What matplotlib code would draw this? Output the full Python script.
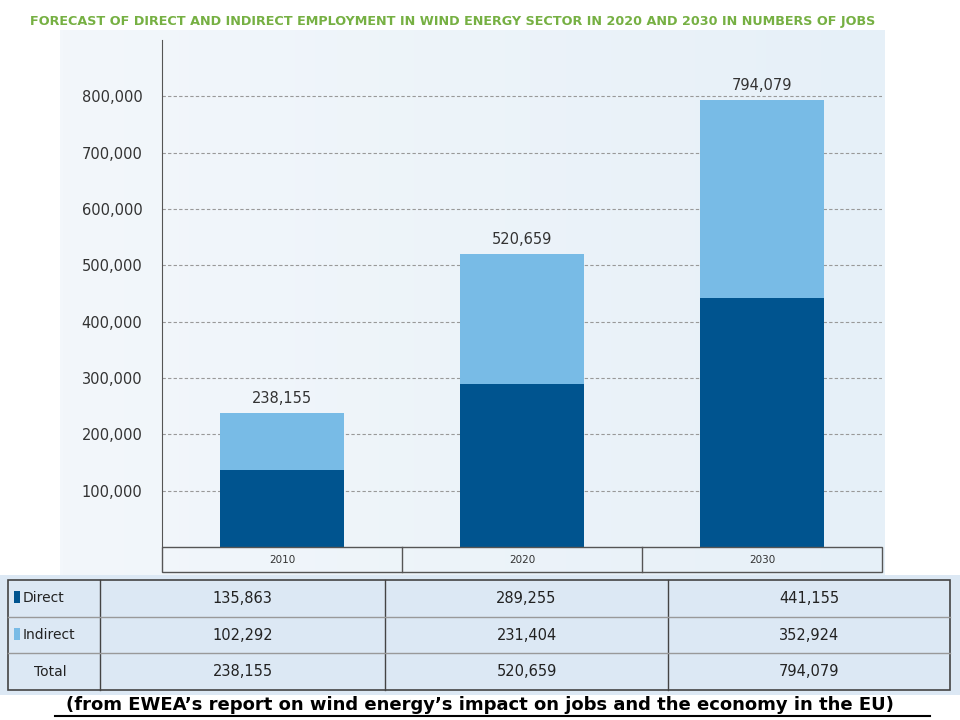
import matplotlib.pyplot as plt
from matplotlib.patches import Rectangle
import numpy as np

years = ["2010", "2020", "2030"]
direct = [135863, 289255, 441155]
indirect = [102292, 231404, 352924]
totals = [238155, 520659, 794079]

dark = "#00548f"
light = "#78bbe6"
W, H = 960, 720

fig = plt.figure(figsize=(9.6, 7.2), dpi=100)
fig.patch.set_facecolor("white")

def fx(x):
    return x / W

def fy(y):
    return 1 - y / H

# background panel with a soft gradient
grad = np.linspace(0, 1, 256).reshape(1, -1)
bg = fig.add_axes([fx(60), fy(575), fx(825), (575 - 30) / H], zorder=0)
bg.imshow(np.vstack([grad, grad]).T[::-1].T, aspect="auto",
          cmap=plt.matplotlib.colors.LinearSegmentedColormap.from_list("g", ["#e6f0f8", "#f3f7fb"]),
          extent=[0, 1, 0, 1])
bg.axis("off")

ax = fig.add_axes([fx(162), fy(547), fx(720), (547 - 40) / H], zorder=1)
ax.patch.set_alpha(0)
x = np.arange(len(years))
ax.bar(x, direct, width=0.52, color=dark, zorder=3)
ax.bar(x, indirect, width=0.52, bottom=direct, color=light, zorder=3)
for xi, t in zip(x, totals):
    ax.text(xi, t + 12000, f"{t:,}", ha="center", va="bottom", fontsize=10.5, color="#333333")
ax.set_xlim(-0.5, 2.5)
ax.set_ylim(0, 900000)
ax.set_yticks(range(100000, 900000, 100000))
ax.set_yticklabels([f"{v:,}" for v in range(100000, 900000, 100000)], fontsize=10.5, color="#333333")
ax.tick_params(axis="y", length=0, pad=14)
ax.set_xticks([])
ax.grid(axis="y", linestyle=(0, (3, 2)), color="#999999", linewidth=0.8, zorder=0)
for s in ["top", "right", "bottom"]:
    ax.spines[s].set_visible(False)
ax.spines["left"].set_color("#555555")

# year row
fig.add_artist(Rectangle((fx(162), fy(572)), fx(720), 25 / H, transform=fig.transFigure,
                         facecolor="none", edgecolor="#555555", lw=1, zorder=5))
for i, yr in enumerate(years):
    fig.text(fx(162 + 240 * i + 120), fy(560), yr, ha="center", va="center", fontsize=7.5, color="#333333")
    if i:
        fig.add_artist(plt.Line2D([fx(162 + 240 * i)] * 2, [fy(547), fy(572)], transform=fig.transFigure,
                                  color="#555555", lw=1))

# data table
fig.add_artist(Rectangle((fx(0), fy(695)), fx(960), 120 / H, transform=fig.transFigure,
                         facecolor="#dce8f4", edgecolor="none", zorder=0))
tl, tr, tt, tb = 8, 950, 580, 690
fig.add_artist(Rectangle((fx(tl), fy(tb)), fx(tr - tl), (tb - tt) / H, transform=fig.transFigure,
                         facecolor="none", edgecolor="#444444", lw=1.2))
cols = [tl, 100, 385, 668, tr]
for cx in cols[1:-1]:
    fig.add_artist(plt.Line2D([fx(cx)] * 2, [fy(tt), fy(tb)], transform=fig.transFigure, color="#444444", lw=1))
rh = (tb - tt) / 3
for r in (1, 2):
    fig.add_artist(plt.Line2D([fx(tl), fx(tr)], [fy(tt + rh * r)] * 2, transform=fig.transFigure,
                              color="#999999", lw=1))
rows = [("Direct", dark, direct), ("Indirect", light, indirect), ("Total", None, totals)]
for r, (name, c, vals) in enumerate(rows):
    yc = fy(tt + rh * r + rh / 2)
    if c:
        fig.add_artist(Rectangle((fx(14), yc - 5 / H), fx(6), 12 / H, transform=fig.transFigure,
                                 facecolor=c, edgecolor="none"))
        fig.text(fx(23), yc, name, va="center", fontsize=10, color="#222222")
    else:
        fig.text(fx(50), yc, name, va="center", ha="center", fontsize=10, color="#222222")
    for i, v in enumerate(vals):
        fig.text(fx((cols[i + 1] + cols[i + 2]) / 2), yc, f"{v:,}", ha="center", va="center",
                 fontsize=10.5, color="#222222")

fig.text(fx(30), fy(22), "FORECAST OF DIRECT AND INDIRECT EMPLOYMENT IN WIND ENERGY SECTOR IN 2020 AND 2030 IN NUMBERS OF JOBS",
         fontsize=9.2, fontweight="bold", color="#76b043", va="center")
fig.text(fx(480), fy(705), "(from EWEA\u2019s report on wind energy\u2019s impact on jobs and the economy in the EU)",
         ha="center", va="center", fontsize=13, fontweight="bold",
         family=["Liberation Sans Narrow", "DejaVu Sans"])
fig.add_artist(plt.Line2D([fx(55), fx(930)], [fy(716)] * 2, transform=fig.transFigure, color="black", lw=1.5))

fig.savefig("out.png", dpi=100)
